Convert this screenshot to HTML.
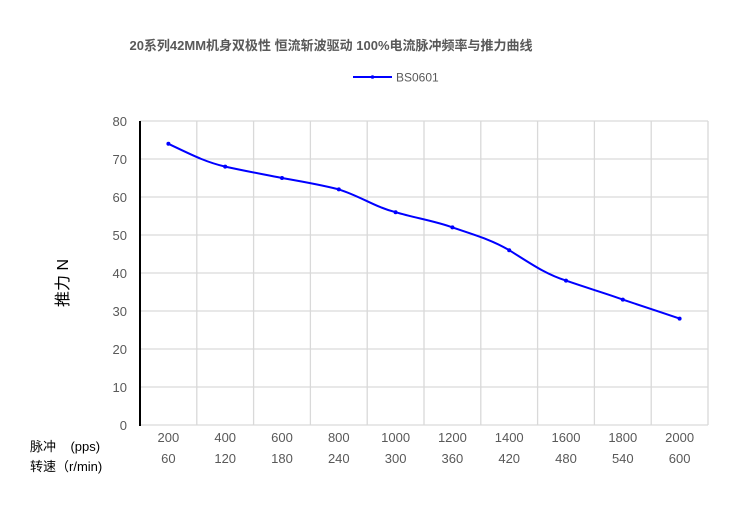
<!DOCTYPE html>
<html><head><meta charset="utf-8"><style>
html,body{margin:0;padding:0;background:#fff;}
text{font-family:"Liberation Sans","Noto Sans CJK SC",sans-serif;}
</style></head><body>
<svg width="750" height="508" xmlns="http://www.w3.org/2000/svg">
<text x="331" y="50" font-size="13" font-weight="bold" fill="#595959" text-anchor="middle">20系列42MM机身双极性 恒流斩波驱动 100%电流脉冲频率与推力曲线</text>
<line x1="353" y1="77" x2="392" y2="77" stroke="#0000ff" stroke-width="2"/>
<circle cx="372.5" cy="77" r="1.8" fill="#0000ff"/>
<text x="396" y="81.5" font-size="12" fill="#595959">BS0601</text>
<g stroke="#d9d9d9" stroke-width="1.3">
<line x1="140" y1="121" x2="708" y2="121"/><line x1="140" y1="159" x2="708" y2="159"/>
<line x1="140" y1="197" x2="708" y2="197"/><line x1="140" y1="235" x2="708" y2="235"/>
<line x1="140" y1="273" x2="708" y2="273"/><line x1="140" y1="311" x2="708" y2="311"/>
<line x1="140" y1="349" x2="708" y2="349"/><line x1="140" y1="387" x2="708" y2="387"/>
<line x1="140" y1="425" x2="708" y2="425"/>
<line x1="196.8" y1="121" x2="196.8" y2="425"/><line x1="253.6" y1="121" x2="253.6" y2="425"/>
<line x1="310.4" y1="121" x2="310.4" y2="425"/><line x1="367.2" y1="121" x2="367.2" y2="425"/>
<line x1="424" y1="121" x2="424" y2="425"/><line x1="480.8" y1="121" x2="480.8" y2="425"/>
<line x1="537.6" y1="121" x2="537.6" y2="425"/><line x1="594.4" y1="121" x2="594.4" y2="425"/>
<line x1="651.2" y1="121" x2="651.2" y2="425"/><line x1="708" y1="121" x2="708" y2="425"/>
</g>
<line x1="140" y1="121" x2="140" y2="426" stroke="#000" stroke-width="2"/>
<g font-size="13" fill="#595959" text-anchor="end">
<text x="127" y="126">80</text><text x="127" y="164">70</text><text x="127" y="202">60</text>
<text x="127" y="240">50</text><text x="127" y="278">40</text><text x="127" y="316">30</text>
<text x="127" y="354">20</text><text x="127" y="392">10</text><text x="127" y="430">0</text>
</g>
<g font-size="13" fill="#595959" text-anchor="middle">
<text x="168.4" y="442">200</text><text x="225.2" y="442">400</text><text x="282" y="442">600</text>
<text x="338.8" y="442">800</text><text x="395.6" y="442">1000</text><text x="452.4" y="442">1200</text>
<text x="509.2" y="442">1400</text><text x="566" y="442">1600</text><text x="622.8" y="442">1800</text>
<text x="679.6" y="442">2000</text>
<text x="168.4" y="463">60</text><text x="225.2" y="463">120</text><text x="282" y="463">180</text>
<text x="338.8" y="463">240</text><text x="395.6" y="463">300</text><text x="452.4" y="463">360</text>
<text x="509.2" y="463">420</text><text x="566" y="463">480</text><text x="622.8" y="463">540</text>
<text x="679.6" y="463">600</text>
</g>
<text x="30" y="451" font-size="13" fill="#000">脉冲 &#160;&#160;&#160;(pps)</text>
<text x="30" y="471" font-size="13" fill="#000">转速（r/min)</text>
<text transform="translate(68,283) rotate(-90)" font-size="16" fill="#000" text-anchor="middle">推力 N</text>
<path d="M168.4,143.8 C190,154 205,162 225.2,166.6 C250,172 262,174 282,178 C305,182 322,185 338.8,189.4 C360,196 375,207 395.6,212.2 C415,218 435,221 452.4,227.4 C475,235 492,240 509.2,250.2 C530,263 545,274 566,280.6 C590,289 605,293 622.8,299.6 C645,307 660,312 679.6,318.6" fill="none" stroke="#0000ff" stroke-width="2"/>
<g fill="#0000ff">
<circle cx="168.4" cy="143.8" r="2"/><circle cx="225.2" cy="166.6" r="2"/><circle cx="282" cy="178" r="2"/>
<circle cx="338.8" cy="189.4" r="2"/><circle cx="395.6" cy="212.2" r="2"/><circle cx="452.4" cy="227.4" r="2"/>
<circle cx="509.2" cy="250.2" r="2"/><circle cx="566" cy="280.6" r="2"/><circle cx="622.8" cy="299.6" r="2"/>
<circle cx="679.6" cy="318.6" r="2"/>
</g>
</svg>
</body></html>
